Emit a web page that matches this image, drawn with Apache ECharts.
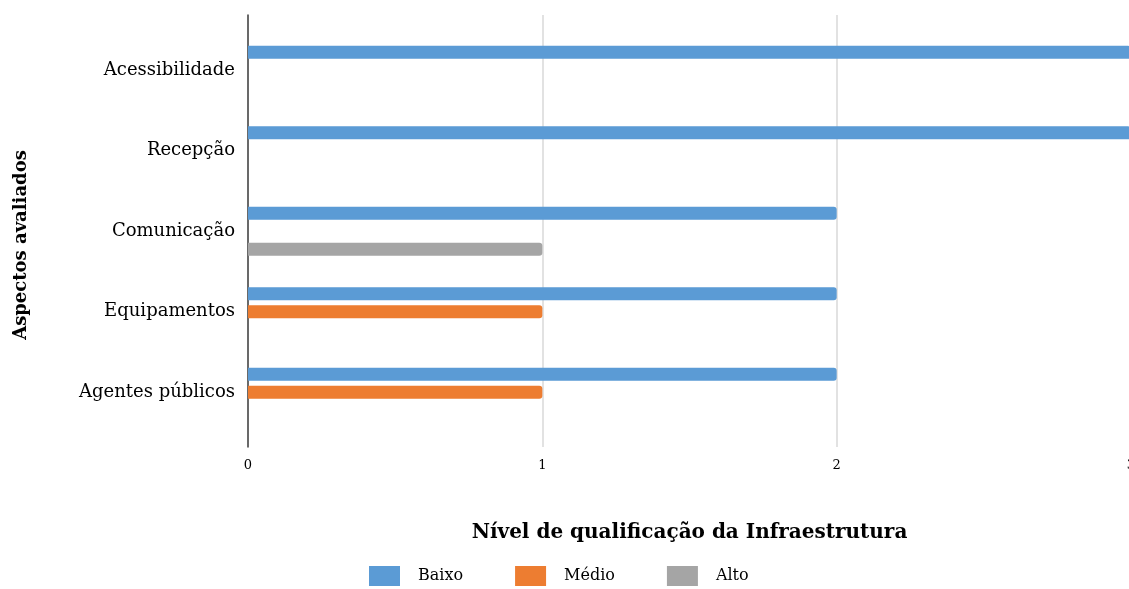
<!DOCTYPE html>
<html>
<head>
<meta charset="utf-8">
<script src="https://cdn.jsdelivr.net/npm/echarts@6/dist/echarts.min.js"></script>
<style>html,body{margin:0;padding:0;background:#fff;}#c{width:1129px;height:589px;}</style>
</head>
<body>
<div id="c"></div>
<script>
const categories = ['Acessibilidade', 'Recepção', 'Comunicação', 'Equipamentos', 'Agentes públicos'];
const baixo = [3, 3, 2, 2, 2];
const medio = [null, null, null, 1, 1];
const alto = [null, null, 1, null, null];
const xTicks = [0, 1, 2, 3];

const FONT = 'DejaVu Serif';
const chart = echarts.init(document.getElementById('c'));
const barStyle = (c) => ({ color: c, borderRadius: [0, 3, 3, 0] });
chart.setOption({
  animation: false,
  backgroundColor: '#fff',
  grid: [
    { left: 248, width: 883, top: 30, height: 402.5, outerBoundsMode: 'none', containLabel: false },
    { left: 248, width: 883, top: 15, height: 432, outerBoundsMode: 'none', containLabel: false }
  ],
  xAxis: [
    { gridIndex: 0, type: 'value', min: 0, max: 3, interval: 1, show: false },
    { gridIndex: 1, type: 'value', min: xTicks[0], max: xTicks[xTicks.length - 1], interval: 1,
      axisLine: { show: false }, axisTick: { show: false },
      splitLine: { show: true, lineStyle: { color: '#d9d9d9', width: 1.5 } },
      axisLabel: { fontFamily: FONT, fontSize: 13, color: '#000', margin: 12 },
      name: 'Nível de qualificação da Infraestrutura', nameLocation: 'middle', nameGap: 76,
      nameTextStyle: { fontFamily: FONT, fontSize: 20, fontWeight: 'bold', color: '#000' } }
  ],
  yAxis: [
    { gridIndex: 0, type: 'category', data: categories, inverse: true,
      axisLine: { show: false }, axisTick: { show: false },
      axisLabel: { fontFamily: FONT, fontSize: 18, color: '#000', margin: 13 } },
    { gridIndex: 1, type: 'category', data: categories, inverse: true,
      axisLine: { show: true, lineStyle: { color: '#404040', width: 1.5 } }, axisTick: { show: false },
      axisLabel: { show: false }, splitLine: { show: false },
      name: 'Aspectos avaliados', nameLocation: 'middle', nameGap: 218,
      nameTextStyle: { fontFamily: FONT, fontSize: 18, fontWeight: 'bold', color: '#000', padding: [0, 28, 0, 0] } }
  ],
  legend: {
    bottom: 3, left: 369, itemWidth: 31, itemHeight: 20, itemGap: 52, padding: 0,
    icon: 'rect',
    textStyle: { fontFamily: FONT, fontSize: 16, color: '#000', padding: [0, 0, 0, 13] },
    data: ['Baixo', 'Médio', 'Alto']
  },
  series: [
    { name: 'Baixo', type: 'bar', xAxisIndex: 0, yAxisIndex: 0, data: baixo, barWidth: 13, barGap: '38%', itemStyle: barStyle('#5B9BD5') },
    { name: 'Médio', type: 'bar', xAxisIndex: 0, yAxisIndex: 0, data: medio, barWidth: 13, barGap: '38%', itemStyle: barStyle('#ED7D31') },
    { name: 'Alto', type: 'bar', xAxisIndex: 0, yAxisIndex: 0, data: alto, barWidth: 13, barGap: '38%', itemStyle: barStyle('#A5A5A5') }
  ]
});
</script>
</body>
</html>
